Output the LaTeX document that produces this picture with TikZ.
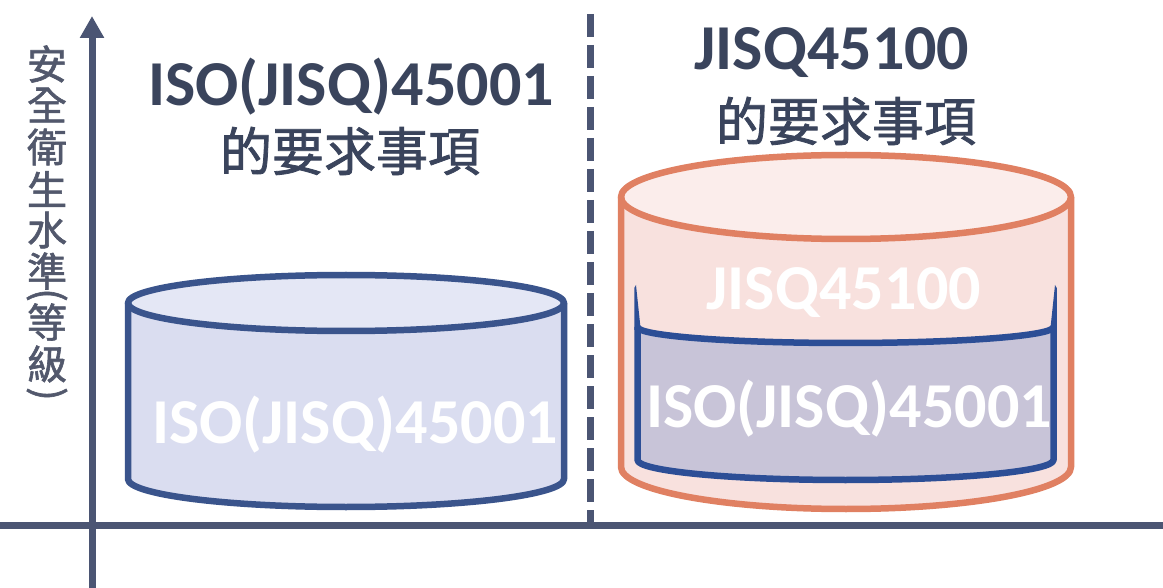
\documentclass[tikz,border=0pt]{standalone}
\usepackage{fontspec}
\setmainfont{Carlito}
\newfontfamily\cjk[FakeBold=1.5]{Noto Sans CJK TC}
\usetikzlibrary{arrows.meta}
\definecolor{axiscol}{RGB}{75,85,115}
\definecolor{titlecol}{RGB}{58,68,92}
\definecolor{labelcol}{RGB}{82,88,108}
\definecolor{orangeline}{RGB}{224,128,98}
\definecolor{pinkbody}{RGB}{248,225,222}
\definecolor{pinktop}{RGB}{251,237,235}
\definecolor{innerfill}{RGB}{200,196,216}
\definecolor{innerline}{RGB}{44,78,150}
\definecolor{leftline}{RGB}{58,84,140}
\definecolor{leftbody}{RGB}{218,221,240}
\definecolor{lefttop}{RGB}{228,231,245}
\tikzset{
  axisline/.style={draw=axiscol, line width=7pt},
  dashline/.style={draw=axiscol, line width=7pt, dash pattern=on 23pt off 8pt},
  titletext/.style={text=titlecol, font=\fontsize{64}{64}\selectfont\bfseries, inner sep=0pt},
  cjktitle/.style={text=titlecol, font=\fontsize{52}{52}\selectfont\cjk, inner sep=0pt},
  whitetext/.style={text=white, font=\fontsize{64}{64}\selectfont\bfseries, inner sep=0pt},
  ylabel/.style={text=labelcol, font=\fontsize{40}{40}\selectfont\cjk, inner sep=0pt},
  leftcyl/.style={draw=leftline, line width=6.5pt, line join=round},
  orangecyl/.style={draw=orangeline, line width=6.5pt, line join=round},
  innercyl/.style={draw=innerline, line width=6.5pt, line join=round},
}
\begin{document}
\begin{tikzpicture}[x=1pt, y=-1pt]
\useasboundingbox (0,0) rectangle (1163,588);
\fill[white] (0,0) rectangle (1163,588);

% axes
\coordinate (ybot) at (92,588);
\coordinate (ytop) at (92,16);
\coordinate (xleft) at (0,525);
\coordinate (xright) at (1163,525);
\coordinate (dtop) at (590,14);
\coordinate (dbot) at (590,522);
\draw[axisline] (xleft) -- (xright);
\draw[axisline, -{Triangle[width=23pt,length=22pt]}] (ybot) -- (ytop);
\draw[dashline] (dtop) -- (dbot);

% y label
\foreach \ch/\yy/\nm in {安/64/a,全/105/b,衛/147/c,生/189/d,水/230/e,準/271/f,等/322/h,級/364/i}
  \node[ylabel] (yl\nm) at (47,\yy) {\ch};
\node[ylabel, rotate=-90] (ylg) at (47,295) {(};
\node[ylabel, rotate=-90] (ylj) at (47,394) {)};

% left cylinder
\fill[leftbody] (128,303) -- (128,479) arc[start angle=180,end angle=360,x radius=218pt,y radius=28pt] -- (564,303) -- cycle;
\fill[lefttop] (346,303) ellipse[x radius=218pt,y radius=28pt];
\draw[leftcyl] (128,303) -- (128,479) arc[start angle=180,end angle=360,x radius=218pt,y radius=28pt] -- (564,303);
\draw[leftcyl] (346,303) ellipse[x radius=218pt,y radius=28pt];

% right outer cylinder body
\fill[pinkbody] (621,197) -- (621,467) arc[start angle=180,end angle=360,x radius=225pt,y radius=42pt] -- (1071,197) -- cycle;
\fill[pinktop] (846,197) ellipse[x radius=225pt,y radius=42pt];

% inner cylinder
\fill[innerfill] (637.5,327) arc[start angle=180,end angle=360,x radius=208pt,y radius=16pt] -- (1053.5,460) arc[start angle=0,end angle=-180,x radius=208pt,y radius=20pt] -- cycle;
\draw[innercyl] (637.5,327) arc[start angle=180,end angle=360,x radius=208pt,y radius=16pt];
\draw[innercyl] (637.5,327) -- (637.5,460) arc[start angle=180,end angle=360,x radius=208pt,y radius=20pt] -- (1053.5,327);
\fill[innerline] (634.25,330) -- (634.25,288) -- (636,285) -- (640.75,330) -- cycle;
\fill[innerline] (1056.75,330) -- (1056.75,288) -- (1055,285) -- (1050.25,330) -- cycle;

% right outer cylinder outline
\draw[orangecyl] (621,197) -- (621,467) arc[start angle=180,end angle=360,x radius=225pt,y radius=42pt] -- (1071,197);
\draw[orangecyl] (846,197) ellipse[x radius=225pt,y radius=42pt];

% titles
\node[titletext, anchor=base] (t1) at (351,106) {ISO(JISQ)45001};
\node[cjktitle] (t1b) at (350,151) {的要求事項};
\node[titletext, anchor=base] (t2) at (832,70) {JISQ45100};
\node[cjktitle] (t2b) at (846,121) {的要求事項};

% white labels
\node[whitetext, anchor=base] (w1) at (355,443) {ISO(JISQ)45001};
\node[whitetext, anchor=base] (w2) at (844,310) {JISQ45100};
\node[whitetext, anchor=base] (w3) at (849,427) {ISO(JISQ)45001};
\end{tikzpicture}
\end{document}
